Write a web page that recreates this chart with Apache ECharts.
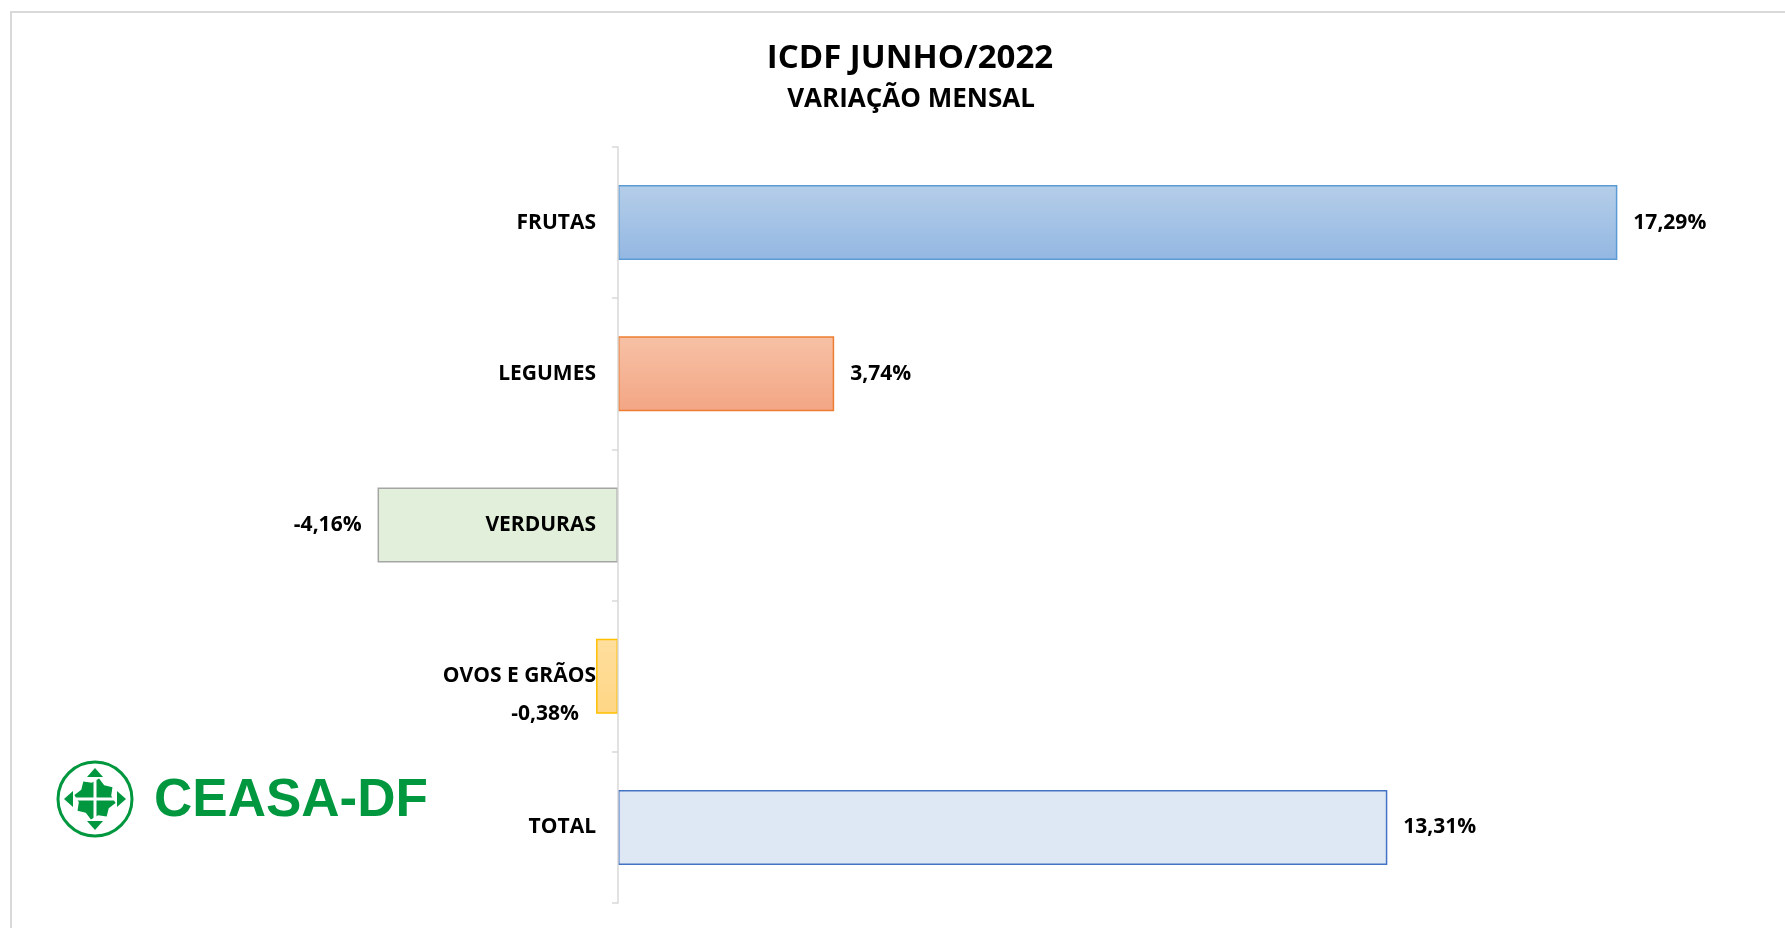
<!DOCTYPE html>
<html>
<head>
<meta charset="utf-8">
<script src="https://cdn.jsdelivr.net/npm/echarts@6/dist/echarts.min.js"></script>
<style>
  html, body { margin: 0; padding: 0; background: #fff; }
  #mainwarp { width: 1785px; height: 928px; }
</style>
</head>
<body>
<div id="mainwarp"></div>
<script>
var categorias = ['FRUTAS', 'LEGUMES', 'VERDURAS', 'OVOS E GRÃOS', 'TOTAL'];
var variacao   = [17.29, 3.74, -4.16, -0.38, 13.31];

// cores de cada barra (topo, base, borda)
var coresTopo  = ['#b5cee9', '#f7c1a6', '#e2efda', '#ffdf9e', '#dee8f5'];
var coresBase  = ['#93b7e2', '#f3a684', '#e2efda', '#ffd685', '#dee8f5'];
var coresBorda = ['#5b9bd5', '#ed7d31', '#a5a5a5', '#ffc000', '#4472c4'];

var fonte = '"Open Sans"';
var myChart;

function fmt(v){
    return v.toFixed(2).replace('.', ',') + '%';
}

function loadStat(){
    var dados = [];
    for (var i = 0; i < variacao.length; i++) {
        var item = {
            value: variacao[i],
            itemStyle: {
                color: new echarts.graphic.LinearGradient(0, 0, 0, 1, [
                    {offset: 0, color: coresTopo[i]},
                    {offset: 1, color: coresBase[i]}
                ]),
                borderColor: coresBorda[i],
                borderWidth: 1.5
            }
        };
        if (categorias[i] == 'OVOS E GRÃOS') {
            item.label = {position: 'left', distance: 17, offset: [0, 38]};
        }
        dados.push(item);
    }

    // logo CEASA-DF
    var cx = 95, cy = 799;
    var miolo = [];
    for (var k = 0; k < 16; k++) {
        var ang = Math.PI * 2 * k / 16 + Math.PI / 16;
        var r = (k % 2 == 0) ? 21 : 16.5;
        miolo.push([cx + r * Math.cos(ang), cy + r * Math.sin(ang)]);
    }
    var verde = '#00973f';

    var option = {
        backgroundColor: '#ffffff',
        animation: false,
        title: [
            {
                text: 'ICDF JUNHO/2022',
                left: 905, top: 37, textAlign: 'center',
                textStyle: {fontFamily: fonte, fontWeight: 'bold', fontSize: 33, color: '#000'}
            },
            {
                text: 'VARIAÇÃO MENSAL',
                left: 906, top: 82, textAlign: 'center',
                textStyle: {fontFamily: fonte, fontWeight: 'bold', fontSize: 26, color: '#000'}
            }
        ],
        grid: {left: 40, right: 11, top: 147, bottom: 25, containLabel: false, outerBoundsMode: 'none'},
        xAxis: {
            type: 'value',
            min: -10, max: 20, interval: 5,
            show: false
        },
        yAxis: {
            type: 'category',
            data: categorias,
            inverse: true,
            z: 5,
            offset: -578,
            axisLine: {show: true, onZero: false, lineStyle: {color: '#d9d9d9', width: 1.5}},
            axisTick: {show: true, length: 6, lineStyle: {color: '#d9d9d9', width: 1.5}},
            axisLabel: {
                margin: 22,
                fontFamily: fonte, fontWeight: 'bold', fontSize: 21, color: '#000'
            },
            splitLine: {show: false}
        },
        series: [
            {
                name: 'Variação mensal',
                type: 'bar',
                barWidth: 75,
                data: dados,
                label: {
                    show: true,
                    position: 'outside',
                    distance: 16,
                    fontFamily: fonte, fontWeight: 'bold', fontSize: 21, color: '#000',
                    formatter: function(p){ return fmt(p.value); }
                }
            }
        ],
        graphic: [
            {
                type: 'rect', z: -10, silent: true,
                shape: {x: 11, y: 12, width: 1800, height: 960},
                style: {fill: null, stroke: '#d9d9d9', lineWidth: 2}
            },
            {
                type: 'circle', silent: true,
                shape: {cx: cx, cy: cy, r: 37},
                style: {fill: null, stroke: verde, lineWidth: 3}
            },
            {
                type: 'polygon', silent: true,
                shape: {points: [[cx, cy - 31], [cx - 8, cy - 22], [cx + 8, cy - 22]]},
                style: {fill: verde}
            },
            {
                type: 'polygon', silent: true,
                shape: {points: [[cx, cy + 31], [cx - 8, cy + 22], [cx + 8, cy + 22]]},
                style: {fill: verde}
            },
            {
                type: 'polygon', silent: true,
                shape: {points: [[cx - 31, cy], [cx - 22, cy - 8], [cx - 22, cy + 8]]},
                style: {fill: verde}
            },
            {
                type: 'polygon', silent: true,
                shape: {points: [[cx + 31, cy], [cx + 22, cy - 8], [cx + 22, cy + 8]]},
                style: {fill: verde}
            },
            {
                type: 'polygon', silent: true,
                shape: {points: miolo},
                style: {fill: verde}
            },
            {
                type: 'rect', silent: true,
                shape: {x: cx - 1.5, y: cy - 19, width: 3, height: 38},
                style: {fill: '#fff'}
            },
            {
                type: 'rect', silent: true,
                shape: {x: cx - 19, y: cy - 1.5, width: 38, height: 3},
                style: {fill: '#fff'}
            },
            {
                type: 'text', silent: true,
                x: 154, y: 801,
                style: {
                    text: 'CEASA-DF',
                    fill: verde,
                    font: 'bold 53px "Liberation Sans"',
                    textVerticalAlign: 'middle'
                }
            }
        ]
    };
    myChart.setOption(option);
}

myChart = echarts.init(document.getElementById('mainwarp'));
loadStat();
</script>
</body>
</html>
